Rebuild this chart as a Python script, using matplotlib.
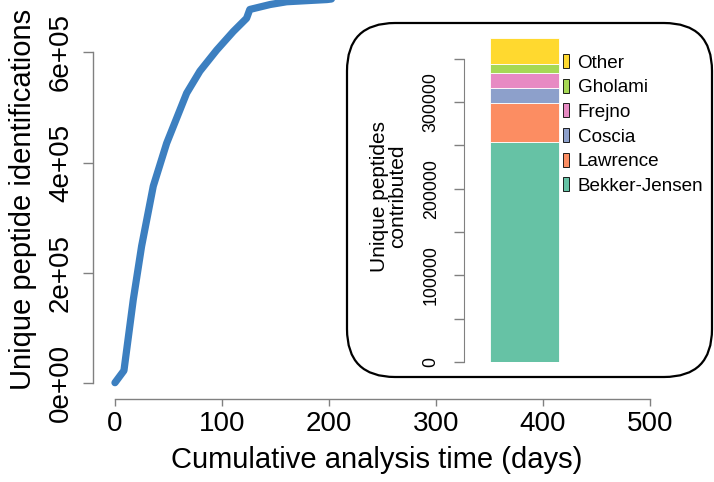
import matplotlib
matplotlib.use("Agg")
import matplotlib.pyplot as plt
from matplotlib.patches import FancyBboxPatch, Patch
from matplotlib.transforms import IdentityTransform

plt.rcParams["font.family"] = ["Liberation Sans", "DejaVu Sans"]

# Cumulative unique peptide identifications vs. analysis time
days = [0, 8.4, 17.1, 24.9, 35.8, 48.3, 67, 79.4, 95, 110.6, 123, 126, 145, 160.4, 179, 198, 215]
peptides = [0, 22000, 150600, 248000, 357000, 435000, 526000, 566000, 604000, 638000,
            662000, 678000, 687000, 692000, 694000, 696000, 700000]

# Peptides contributed per dataset (stacked bottom to top)
sources = ["Bekker-Jensen", "Lawrence", "Coscia", "Frejno", "Gholami", "Other"]
contributed = [254100, 45000, 17300, 16600, 10400, 30000]
colors = ["#66C2A5", "#FC8D62", "#8DA0CB", "#E78AC3", "#A6D854", "#FFD92F"]

W, H = 714, 482
AXIS_GREY = "#808080"


def fig_rect(x0, y_top, x1, y_bot):
    """Pixel box (origin top-left) -> figure fraction rect."""
    return [x0 / W, 1 - y_bot / H, (x1 - x0) / W, (y_bot - y_top) / H]


fig = plt.figure(figsize=(W / 100, H / 100), dpi=100)

# ---- main cumulative curve
ax = fig.add_axes(fig_rect(92.7, 0, 714, 399))
ax.plot(days, peptides, color="#3C7FC0", lw=5.2, solid_capstyle="round",
        solid_joinstyle="round")
ax.set_xlim(-20.8, 559.8)
ax.set_ylim(-29600, 695200)
for side in ("top", "right"):
    ax.spines[side].set_visible(False)
ax.spines["left"].set_bounds(0, 600000)
ax.spines["bottom"].set_bounds(0, 500)
for side in ("left", "bottom"):
    ax.spines[side].set_color(AXIS_GREY)
    ax.spines[side].set_linewidth(1.0)
ax.set_xticks([0, 100, 200, 300, 400, 500])
ax.set_yticks([0, 200000, 400000, 600000])
ax.set_yticklabels(["0e+00", "2e+05", "4e+05", "6e+05"])
ax.tick_params(axis="both", colors=AXIS_GREY, labelcolor="black", labelsize=20,
               length=7, width=1.0)
ax.tick_params(axis="y", pad=6.5)
ax.tick_params(axis="x", pad=3.5, length=5)
for lbl in ax.get_yticklabels():
    lbl.set_rotation(90)
    lbl.set_va("center")
ax.set_xlabel("Cumulative analysis time (days)", fontsize=21)
ax.xaxis.set_label_coords(0.457, -0.118)
ax.set_ylabel("Unique peptide identifications", fontsize=21, labelpad=8)

# ---- rounded inset frame
frame = FancyBboxPatch((347, H - 377), 365, 354,
                       boxstyle="round,pad=0,rounding_size=48",
                       transform=IdentityTransform(), facecolor="white",
                       edgecolor="black", lw=1.6, zorder=1.5)
fig.patches.append(frame)

# ---- inset stacked bar
ins = fig.add_axes(fig_rect(464, 30, 562, 362))
ins.set_zorder(2)
ins.patch.set_visible(False)
bottom = 0
for src, val, col in zip(sources, contributed, colors):
    ins.bar(0.265, val, width=0.705, bottom=bottom, align="edge", color=col,
            edgecolor="white", lw=0.6, label=src)
    bottom += val
ins.set_xlim(0, 1)
ins.set_ylim(0, 382900)
for side in ("top", "right", "bottom"):
    ins.spines[side].set_visible(False)
ins.spines["left"].set_bounds(0, 350000)
ins.spines["left"].set_color(AXIS_GREY)
ins.set_xticks([])
ticks = list(range(0, 350001, 50000))
ins.set_yticks(ticks)
ins.set_yticklabels([str(t) if t % 100000 == 0 else "" for t in ticks])
ins.tick_params(axis="y", colors=AXIS_GREY, labelcolor="black", labelsize=12.8,
                length=7.5, width=1.0, pad=10)
for lbl in ins.get_yticklabels():
    lbl.set_rotation(90)
    lbl.set_va("center")
ins.set_ylabel("Unique peptides\ncontributed", fontsize=15, linespacing=0.95,
               labelpad=11)

handles = [Patch(facecolor=c, edgecolor="black", lw=0.6) for c in colors][::-1]
leg = fig.legend(handles, sources[::-1], loc="upper left",
                 bbox_to_anchor=(563 / W, 1 - 54 / H), frameon=False,
                 fontsize=13.6, handlelength=0.32, handleheight=0.75,
                 handletextpad=0.45, labelspacing=0.38, borderpad=0,
                 borderaxespad=0)
leg.set_zorder(3)

fig.savefig("out.png", dpi=100)
